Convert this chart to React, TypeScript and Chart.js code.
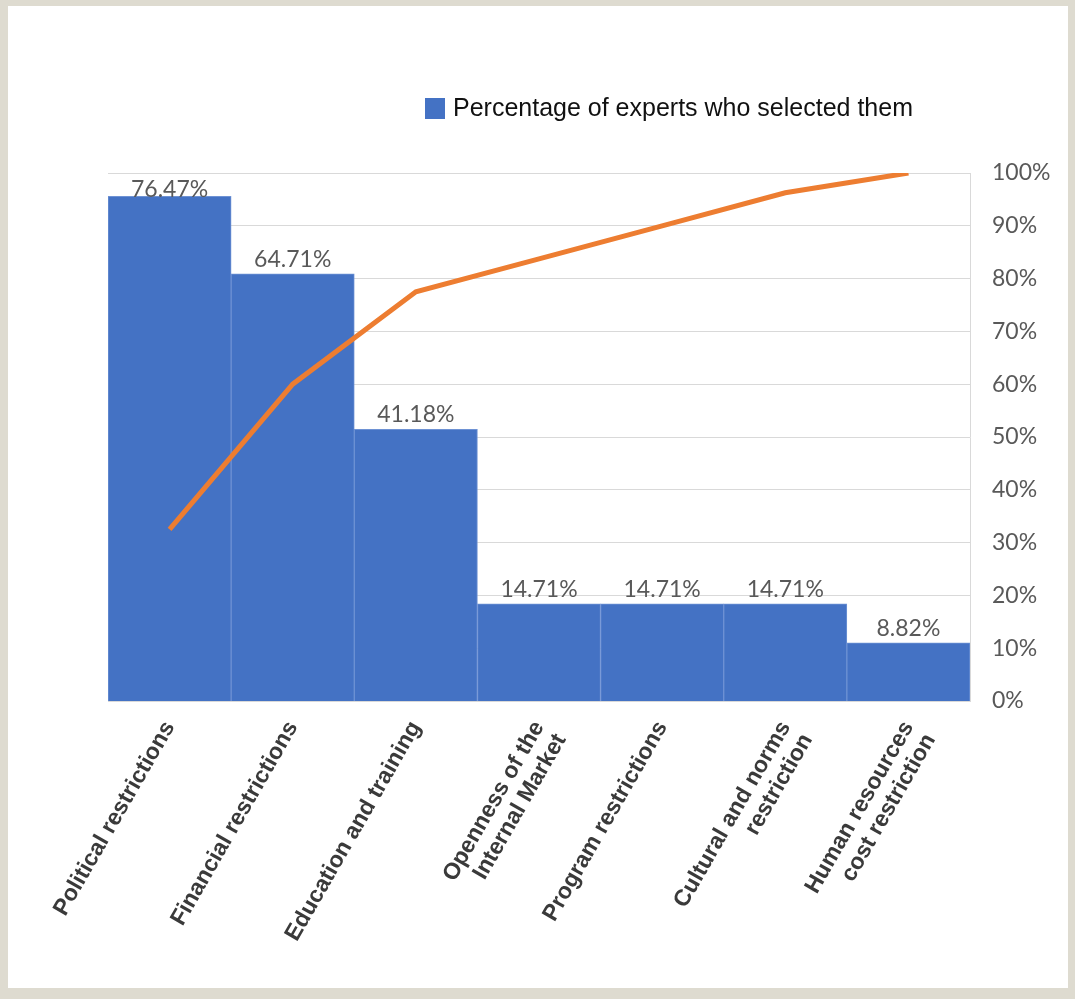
import React, { useEffect, useRef } from "react";
import { Chart, registerables } from "chart.js";

Chart.register(...registerables);

const categories: (string | string[])[] = [
  "Political restrictions",
  "Financial restrictions",
  "Education and training",
  ["Openness of the", "Internal Market"],
  "Program restrictions",
  ["Cultural and norms", "restriction"],
  ["Human resources", "cost restriction"],
];
const percentages = [76.47, 64.71, 41.18, 14.71, 14.71, 14.71, 8.82];
const cumulative = [32.5, 60.0, 77.5, 83.75, 90.0, 96.25, 100];
const rightTicks = [0, 10, 20, 30, 40, 50, 60, 70, 80, 90, 100];
const legendLabel = "Percentage of experts who selected them";

const BAR_COLOR = "#4472C4";
const LINE_COLOR = "#ED7D31";

const dataLabelPlugin = {
  id: "dataLabels",
  afterDatasetsDraw(chart: any) {
    const meta = chart.getDatasetMeta(0);
    const ctx = chart.ctx;
    const area = chart.chartArea;
    ctx.save();
    ctx.font = "23px Lato";
    ctx.fillStyle = "#595959";
    ctx.textAlign = "center";
    ctx.textBaseline = "alphabetic";
    meta.data.forEach((bar: any, i: number) => {
      const y = Math.max(bar.y - 7, area.top + 24);
      ctx.fillText(percentages[i].toFixed(2) + "%", bar.x, y);
    });
    ctx.restore();
  },
};

const legendPlugin = {
  id: "customLegend",
  afterDraw(chart: any) {
    const ctx = chart.ctx;
    const area = chart.chartArea;
    const x = area.left + 317;
    const y = area.top - 75;
    ctx.save();
    ctx.fillStyle = BAR_COLOR;
    ctx.fillRect(x, y, 20, 21);
    ctx.fillStyle = "#111111";
    ctx.font = "25px 'Liberation Sans', Arial, sans-serif";
    ctx.textAlign = "left";
    ctx.textBaseline = "middle";
    ctx.fillText(legendLabel, x + 28, y + 11);
    ctx.restore();
  },
};

export default function App() {
  const canvasRef = useRef<HTMLCanvasElement | null>(null);

  useEffect(() => {
    if (!canvasRef.current) return;
    const chart = new Chart(canvasRef.current, {
      type: "bar",
      data: {
        labels: categories as any,
        datasets: [
          {
            type: "bar",
            label: legendLabel,
            data: percentages,
            backgroundColor: BAR_COLOR,
            borderColor: "#6e92d4",
            borderWidth: 1,
            barPercentage: 1,
            categoryPercentage: 1,
            yAxisID: "yBar",
            order: 2,
          },
          {
            type: "line",
            label: "Cumulative",
            data: cumulative,
            borderColor: LINE_COLOR,
            backgroundColor: LINE_COLOR,
            borderWidth: 5,
            pointRadius: 0,
            tension: 0,
            yAxisID: "y",
            order: 1,
          } as any,
        ],
      },
      options: {
        responsive: false,
        animation: false,
        layout: { padding: { left: 100, top: 167, right: 0, bottom: 0 } },
        plugins: {
          legend: { display: false },
          tooltip: { enabled: false },
        },
        scales: {
          x: {
            grid: { display: false },
            border: { display: true, color: "#d9d9d9" },
            ticks: {
              autoSkip: false,
              minRotation: 60,
              maxRotation: 60,
              padding: 8,
              color: "#3a3a3a",
              font: { family: "'Liberation Sans', Arial, sans-serif", size: 23, weight: "bold", lineHeight: 1.1 },
            },
            afterFit(scale: any) {
              scale.height = 287;
            },
          },
          y: {
            position: "right",
            min: 0,
            max: 100,
            afterBuildTicks(scale: any) {
              scale.ticks = rightTicks.map((v) => ({ value: v }));
            },
            grid: { color: "#d9d9d9", drawTicks: false },
            border: { display: true, color: "#d9d9d9" },
            ticks: {
              padding: 22,
              color: "#595959",
              font: { family: "Lato", size: 23 },
              callback: (v: any) => v + "%",
            },
            afterFit(scale: any) {
              scale.width = 98;
            },
          },
          yBar: {
            display: false,
            min: 0,
            max: 80,
          },
        },
      },
      plugins: [dataLabelPlugin, legendPlugin],
    });
    return () => chart.destroy();
  }, []);

  return (
    <div
      style={{
        position: "fixed",
        left: 0,
        top: 0,
        width: 1075,
        height: 999,
        background: "#dedbd0",
      }}
    >
      <div
        style={{
          position: "absolute",
          left: 8,
          top: 6,
          width: 1060,
          height: 982,
          background: "#ffffff",
        }}
      >
        <canvas ref={canvasRef} width={1060} height={982} style={{ width: 1060, height: 982 }} />
      </div>
    </div>
  );
}
